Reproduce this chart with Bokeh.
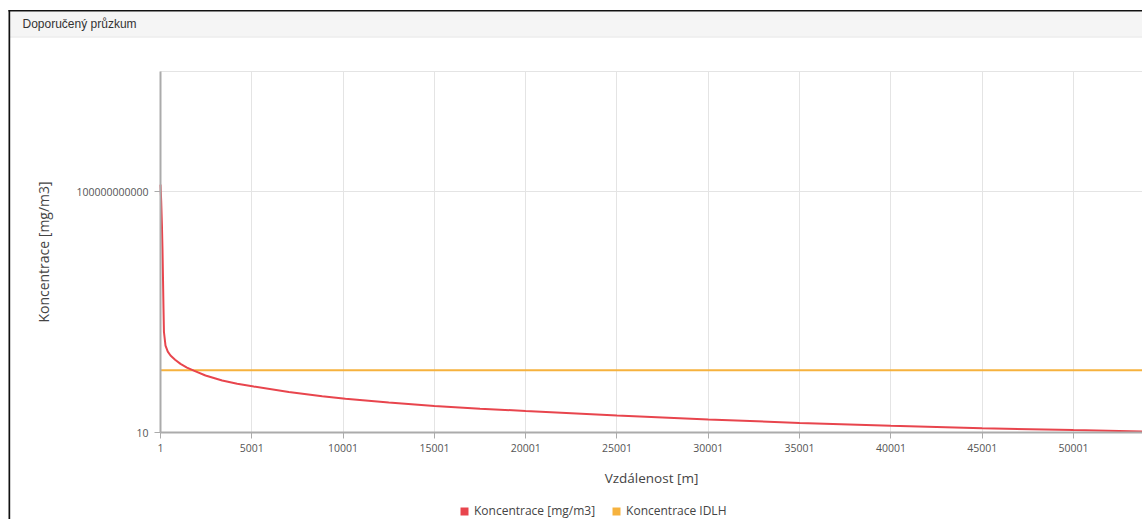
import numpy as np
from bokeh.plotting import figure
from bokeh.models import (FixedTicker, CustomJSTickFormatter, Range1d, BoxAnnotation,
                          Legend, LegendItem, Grid, Label)
from bokeh.embed import file_html
from bokeh.resources import INLINE

# ---- data ----
distance = [1, 40, 80, 110, 140, 165, 190, 275, 400, 549, 800, 1096, 1450, 1825,
            2465, 3380, 4200, 5110, 7027, 8857, 10130, 12501, 15001, 17501, 20001,
            25001, 30001, 35001, 40001, 45001, 50001, 53780]
concentration = [2e11, 4e10, 4e9, 4e8, 2e7, 1.5e6, 1.5e5, 4.1e4, 2.3e4, 1.58e4,
                 1.05e4, 7.1e3, 5.0e3, 3.7e3, 2.34e3, 1.45e3, 1.06e3, 813, 479, 324,
                 251, 176, 127, 98, 78, 51, 35, 25, 19, 15.1, 12.6, 11.1]
idlh_x = [1, 53780]
idlh_y = [3830, 3830]
x_ticks = [1, 5001, 10001, 15001, 20001, 25001, 30001, 35001, 40001, 45001, 50001]
y_ticks = [10, 1e11]
series_names = ["Koncentrace [mg/m3]", "Koncentrace IDLH"]
series_colors = ["#e8454d", "#f6b23e"]
title_text = "Doporučený průzkum"

FONT = "Open Sans"
WIDTH, HEIGHT = 1142, 519
# where the data area sits on the canvas (px)
P_LEFT, P_TOP, P_BOTTOM = 160, 71, 432
X_DATA = (1, 53780)          # x at P_LEFT .. right edge
Y_DATA = (10, 1e16)          # y at P_BOTTOM .. P_TOP

# the frame covers the whole canvas; extend the ranges accordingly
sx = (X_DATA[1] - X_DATA[0]) / (WIDTH - P_LEFT)
XR = (X_DATA[0] - P_LEFT * sx, X_DATA[1])
ld0, ld1 = np.log10(Y_DATA[0]), np.log10(Y_DATA[1])
sy = (ld1 - ld0) / (P_BOTTOM - P_TOP)
L_TOP = ld0 + P_BOTTOM * sy
L_BOT = ld0 - (HEIGHT - P_BOTTOM) * sy
YR = (10 ** L_BOT, 10 ** L_TOP)


def xpx(px):
    return XR[0] + px * sx


def ypx(py):
    return 10 ** (L_TOP - py * sy)


p = figure(width=WIDTH, height=HEIGHT, toolbar_location=None, output_backend="svg",
           y_axis_type="log", x_range=Range1d(*XR), y_range=Range1d(*YR),
           min_border=0, outline_line_color=None,
           background_fill_color="white", border_fill_color="white")
p.title.visible = False

# panel decorations (title bar and dark frame border)
p.add_layout(BoxAnnotation(left=xpx(9.5), right=xpx(1160), top=ypx(11), bottom=ypx(36),
                           fill_color="#f5f5f5", fill_alpha=1, line_color=None,
                           level="underlay"))
p.add_layout(BoxAnnotation(left=xpx(9.5), right=xpx(1160), top=ypx(36), bottom=ypx(37),
                           fill_color="#e3e3e3", fill_alpha=1, line_color=None,
                           level="underlay"))
p.add_layout(BoxAnnotation(left=xpx(8), right=xpx(1160), top=ypx(9.5), bottom=ypx(11),
                           fill_color="#111111", fill_alpha=1, line_color=None))
p.add_layout(BoxAnnotation(left=xpx(8), right=xpx(9.7), top=ypx(9.5), bottom=ypx(530),
                           fill_color="#111111", fill_alpha=1, line_color=None))
p.add_layout(Label(x=xpx(22), y=ypx(23), text=title_text, text_baseline="middle",
                   text_font="Liberation Sans", text_font_size="12px",
                   text_color="#333333"))

p.line(idlh_x, idlh_y, line_color=series_colors[1], line_width=2)
p.line(distance, concentration, line_color=series_colors[0], line_width=2)

q1 = p.quad(left=[np.nan], right=[np.nan], top=[np.nan], bottom=[np.nan],
            fill_color=series_colors[0], line_color=None)
q2 = p.quad(left=[np.nan], right=[np.nan], top=[np.nan], bottom=[np.nan],
            fill_color=series_colors[1], line_color=None)

p.xaxis.ticker = FixedTicker(ticks=x_ticks)
p.yaxis.ticker = FixedTicker(ticks=y_ticks)
p.yaxis.formatter = CustomJSTickFormatter(code="return tick.toFixed(0);")
p.xaxis.formatter = CustomJSTickFormatter(code="return tick.toFixed(0);")
p.xaxis.fixed_location = Y_DATA[0]
p.yaxis.fixed_location = X_DATA[0]
p.xaxis.bounds = X_DATA
p.yaxis.bounds = Y_DATA

for ax in (p.xaxis, p.yaxis):
    ax.axis_line_color = "#ababab"
    ax.axis_line_width = 2
    ax.major_tick_line_color = "#ababab"
    ax.major_tick_in = 0
    ax.major_tick_out = 6
    ax.minor_tick_line_color = None
    ax.major_label_text_font = FONT
    ax.major_label_text_font_size = "10.5px"
    ax.major_label_text_color = "#555555"
    ax.axis_label_text_font = FONT
    ax.axis_label_text_font_style = "normal"
    ax.axis_label_text_color = "#444444"

p.xaxis.axis_label = "Vzdálenost [m]"
p.xaxis.axis_label_text_font_size = "13.5px"
p.xaxis.major_label_standoff = 5
p.xaxis.axis_label_standoff = 14
p.yaxis.axis_label = "Koncentrace [mg/m3]"
p.yaxis.axis_label_text_font_size = "14px"
p.yaxis.major_label_standoff = 6
p.yaxis.axis_label_standoff = 20

p.xgrid.grid_line_color = "#e4e4e4"
p.ygrid.grid_line_color = "#e4e4e4"
p.xgrid.cross_bounds = Y_DATA
p.ygrid.cross_bounds = X_DATA
p.add_layout(Grid(dimension=1, ticker=FixedTicker(ticks=[Y_DATA[1]]),
                  bounds=(Y_DATA[0], Y_DATA[1] * 10), cross_bounds=X_DATA,
                  grid_line_color="#e4e4e4"))

legend = Legend(items=[LegendItem(label=series_names[0], renderers=[q1]),
                       LegendItem(label=series_names[1], renderers=[q2])],
                orientation="horizontal", location=(459, 0),
                glyph_width=10, glyph_height=10, label_standoff=5, spacing=16,
                padding=0, margin=0, border_line_color=None,
                background_fill_alpha=0, label_text_font=FONT,
                label_text_font_size="12px", label_text_color="#444444")
p.add_layout(legend)

open("out.html", "w").write(file_html(p, INLINE))
